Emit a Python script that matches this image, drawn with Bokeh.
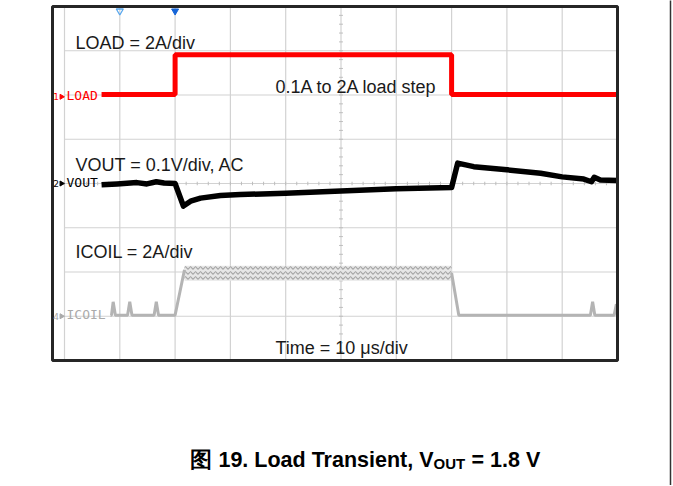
import numpy as np
from bokeh.plotting import figure
from bokeh.models import Range1d, Label
from bokeh.embed import file_html
from bokeh.resources import INLINE

# ---------------- data ----------------
# time in microseconds (10 us/div)
load_t = [6.7, 20.0, 20.0, 70.0, 70.0, 100.0]
load_a = [0.1, 0.1, 1.9, 1.9, 0.1, 0.1]            # A, 2 A/div

vout_t = [6.7, 9.5, 13.1, 14.9, 16.6, 18.0, 20.0, 21.5, 22.8, 24.6, 28.2, 31.8,
          40.0, 50.0, 60.0, 70.0, 71.1, 74.0, 80.0, 86.1, 90.0, 93.9, 95.3,
          95.8, 96.9, 100.0]
vout_mv = [-3, -1, 2, -1, 4, 1, 0, -51, -40, -33, -27, -25,
           -22, -17, -12, -9, 46, 38, 31, 23, 15, 10, 4,
           14, 8, 7]                                  # mV, AC, 0.1 V/div

icoil_t = [8.3, 8.5, 8.8, 9.2, 11.4, 11.8, 12.2, 16.2, 16.6, 17.0, 20.0, 21.7,
           np.nan, 70.0, 71.3, 95.1, 95.5, 95.9, 99.4, 99.8]
icoil_a = [0.05, 0.05, 0.65, 0.05, 0.05, 0.65, 0.05, 0.05, 0.65, 0.05, 0.05, 2.1,
           np.nan, 1.95, 0.05, 0.05, 0.65, 0.05, 0.05, 0.55]   # A, 2 A/div
ripple_t = [21.7, 70.0]
ripple_hi = [2.28, 2.28]
ripple_lo = [1.6, 1.6]

marker_t = [10.0, 20.0]
grid_x = [0, 10, 20, 30, 40, 50, 60, 70, 80, 90]
grid_y = [1, 2, 3, 4, 5, 6, 7]

# channel placement (divisions) and scale
LOAD_REF, LOAD_PER_DIV = 5.96, 2.0
VOUT_REF, VOUT_PER_DIV = 4.0, 100.0
ICOIL_REF, ICOIL_PER_DIV = 1.0, 2.0

# ---------------- page geometry ----------------
W, H = 672, 485
PAGE_LEFT, PAGE_TOP = 0, 0
PX_X0, PX_PER_US = 64.0, 5.53
PX_Y0, PX_PER_DIV = 360.0, 44.25
BASE_FIX = 6  # alphabetic baseline correction (px)


def dx(px):
    return (px - PX_X0) / PX_PER_US


def dy(py):
    return (PX_Y0 - py) / PX_PER_DIV


p = figure(width=W, height=H, title=None,
           x_range=Range1d(dx(PAGE_LEFT), dx(PAGE_LEFT + W)),
           y_range=Range1d(dy(PAGE_TOP + H), dy(PAGE_TOP)),
           output_backend="svg", toolbar_location=None,
           x_axis_type=None, y_axis_type=None, min_border=0,
           outline_line_color=None, background_fill_color="white",
           border_fill_color="white")

# grid
GRID = "#d2d2d2"
p.segment(x0=grid_x, y0=0, x1=grid_x, y1=8, line_color=GRID, line_width=1.2)
p.segment(x0=0, y0=grid_y, x1=100, y1=grid_y, line_color=GRID, line_width=1.2)
# minor ticks on center lines
mt_x = list(np.arange(0, 100.01, 2.0))
p.segment(x0=mt_x, y0=4 - 0.04, x1=mt_x, y1=4 + 0.04, line_color="#bdbdbd", line_width=1)
mt_y = list(np.arange(0, 8.01, 0.2))
p.segment(x0=50 - 0.35, y0=mt_y, x1=50 + 0.35, y1=mt_y, line_color="#bdbdbd", line_width=1)

# ICOIL
ICOL = "#b4b4b4"
p.varea(x=ripple_t,
        y1=[ICOIL_REF + v / ICOIL_PER_DIV for v in ripple_lo],
        y2=[ICOIL_REF + v / ICOIL_PER_DIV for v in ripple_hi],
        fill_color="#e6e6e6", hatch_pattern="v", hatch_color="#a6a6a6",
        hatch_scale=5, hatch_weight=1.1)
p.line(icoil_t, [ICOIL_REF + v / ICOIL_PER_DIV for v in icoil_a],
       line_color=ICOL, line_width=3)

# VOUT
p.line(vout_t, [VOUT_REF + v / VOUT_PER_DIV for v in vout_mv],
       line_color="black", line_width=5.5, line_join="round")

# LOAD
p.line(load_t, [LOAD_REF + v / LOAD_PER_DIV for v in load_a],
       line_color="#ff0000", line_width=5)

# frame border
p.quad(left=dx(52), right=100, bottom=0, top=8, fill_color=None,
       line_color="#262626", line_width=3)

# top markers
p.scatter(x=marker_t[:1], y=dy(10.5), marker="inverted_triangle", size=7,
          fill_color=None, line_color="#5aa8ee", line_width=1.3)
p.scatter(x=marker_t[1:], y=dy(10.5), marker="inverted_triangle", size=7,
          fill_color="#1565d8", line_color="#1565d8")

# channel markers
for num, name, ref, col in [("1", "LOAD", LOAD_REF, "#ff0000"),
                            ("2", "VOUT", VOUT_REF, "black"),
                            ("4", "ICOIL", ICOIL_REF, "#aaaaaa")]:
    p.add_layout(Label(x=dx(55.5), y=ref, text=num, text_font="DejaVu Sans",
                       text_font_size="9px", text_color=col, text_align="center",
                       text_baseline="middle"))
    p.scatter(x=[dx(61)], y=[ref], marker="triangle", angle=-np.pi / 2, size=5,
              color=col)
    p.add_layout(Label(x=dx(66), y=ref + 0.03, text=name, text_font="DejaVu Sans Mono",
                       text_font_size="13px", text_color=col, text_baseline="middle"))

# annotations
TXT = "#1a1a1a"
for t, px, py in [("LOAD = 2A/div", 75, 48.3),
                  ("0.1A to 2A load step", 275, 92),
                  ("VOUT = 0.1V/div, AC", 75, 170),
                  ("ICOIL = 2A/div", 75, 257.7),
                  ("Time = 10 μs/div", 275, 353)]:
    p.add_layout(Label(x=dx(px), y=dy(py - BASE_FIX), text=t, text_font="Liberation Sans",
                       text_font_size="18px", text_color=TXT,
                       text_baseline="alphabetic"))

# caption
p.add_layout(Label(x=dx(433), y=dy(465 - BASE_FIX), text="图 19. Load Transient, V",
                   text_font="Liberation Sans", text_font_style="bold",
                   text_font_size="21.5px", text_color="black", text_align="right",
                   text_baseline="alphabetic"))
p.add_layout(Label(x=dx(433), y=dy(469 - BASE_FIX), text="OUT",
                   text_font="Liberation Sans", text_font_style="bold",
                   text_font_size="15px", text_color="black",
                   text_baseline="alphabetic"))
p.add_layout(Label(x=dx(471), y=dy(465 - BASE_FIX), text="= 1.8 V",
                   text_font="Liberation Sans", text_font_style="bold",
                   text_font_size="21.5px", text_color="black",
                   text_baseline="alphabetic"))

# page edge line
p.segment(x0=dx(670), y0=dy(500), x1=dx(670), y1=dy(-10), line_color="#333333",
          line_width=1.5)

open("out.html", "w").write(file_html(p, INLINE))
